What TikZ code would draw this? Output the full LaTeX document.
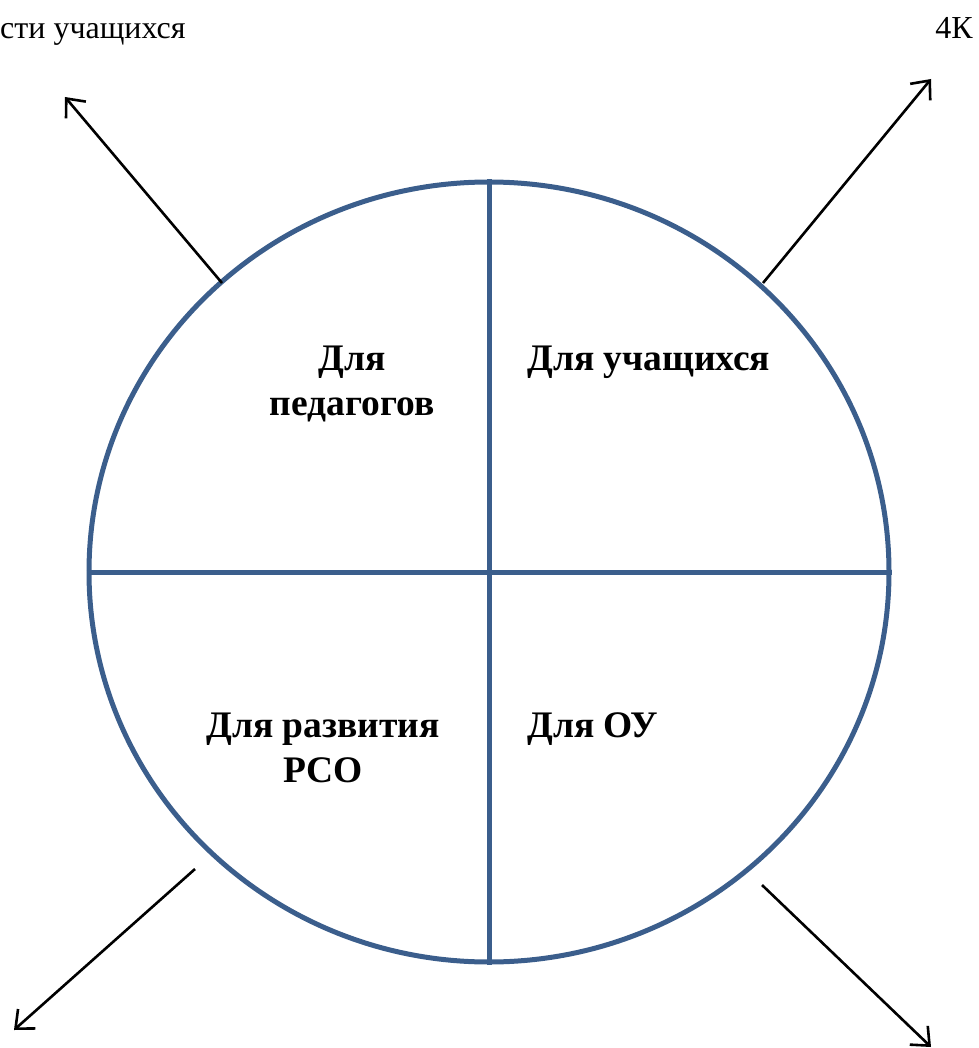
\documentclass[tikz,border=0pt]{standalone}
\usepackage{fontspec}
\setmainfont{Liberation Serif}
\usetikzlibrary{arrows.meta,shapes.geometric}

\definecolor{ringblue}{RGB}{59,94,140}

\begin{document}
\begin{tikzpicture}[
    x=1pt,y=-1pt,
    ring/.style={draw=ringblue,line width=5pt},
    sector/.style={font=\fontsize{37.5}{45}\selectfont\bfseries,align=center,inner sep=0pt},
    note/.style={font=\fontsize{32}{38}\selectfont,inner sep=0pt},
    arrow/.style={-{Straight Barb[length=15pt,width=26pt]},line width=2.6pt}
  ]
    \useasboundingbox (0,0) rectangle (978,1048);
    \node[ring,ellipse,minimum width=800pt,minimum height=780pt,inner sep=0pt] (disc) at (489,572) {};
    \draw[ring] (disc.north) -- (disc.south);
    \draw[ring] (disc.west) -- (disc.east);

    \node[sector,anchor=base] (teachers) at (352,415) {Для\\педагогов};
    \node[sector,anchor=base west] (pupils) at (527,370) {Для учащихся};
    \node[sector,anchor=base] (network) at (323,782) {Для развития\\РСО};
    \node[sector,anchor=base west] (school) at (527,737) {Для ОУ};

    \node[note,anchor=base west] (leftnote) at (0,39) {сти учащихся};
    \node[note,anchor=base east] (rightnote) at (973,39) {4К};

    % arrows out of the circle
    \coordinate (nwstart) at (222,283);
    \coordinate (nwend) at (65,97);
    \coordinate (nestart) at (763,283);
    \coordinate (neend) at (931,79);
    \coordinate (swstart) at (195,869);
    \coordinate (swend) at (14,1030);
    \coordinate (sestart) at (762,885);
    \coordinate (seend) at (931,1047);
    \draw[arrow] (nwstart) -- (nwend);
    \draw[arrow] (nestart) -- (neend);
    \draw[arrow] (swstart) -- (swend);
    \draw[arrow] (sestart) -- (seend);
  \end{tikzpicture}
\end{document}
